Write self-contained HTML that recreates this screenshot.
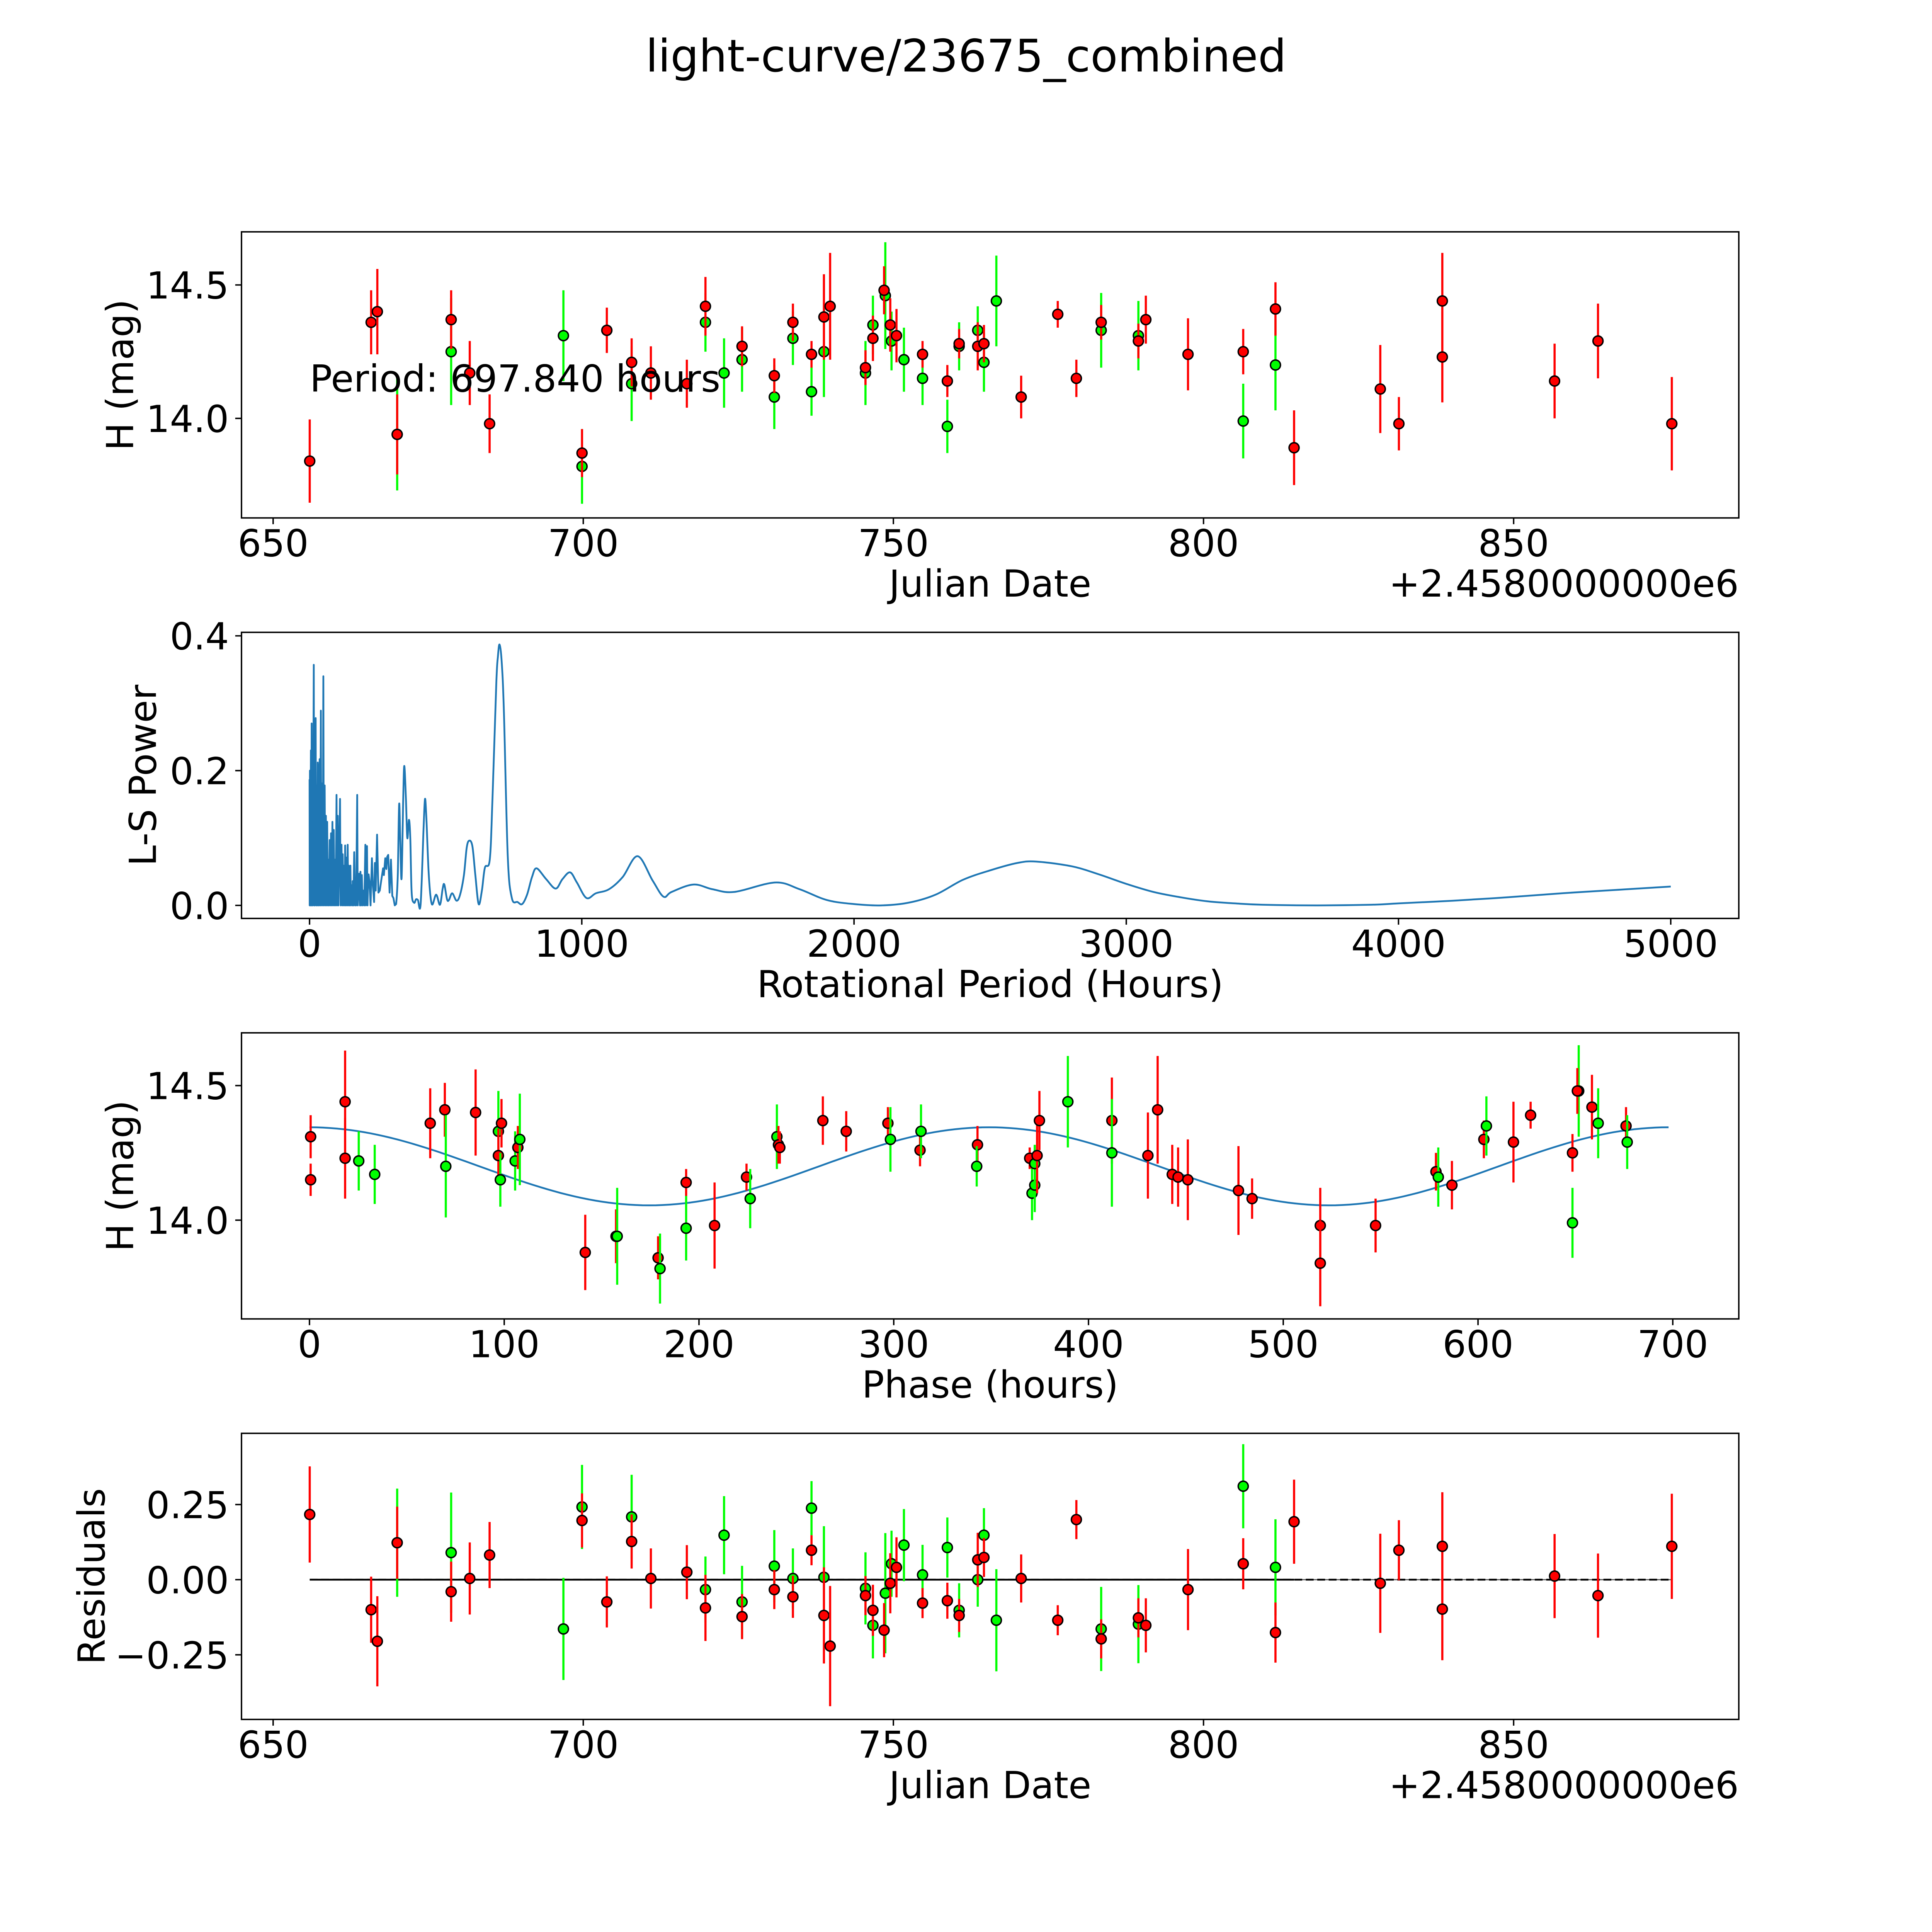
<!DOCTYPE html>
<html><head><meta charset="utf-8"><title>light-curve/23675_combined</title>
<style>
html,body{margin:0;padding:0;background:#fff;width:100%;height:100%;overflow:hidden;}
svg{display:block;width:100vw;height:100vh;}
text{font-family:"DejaVu Sans","Liberation Sans",sans-serif;fill:#000;}
</style></head>
<body>
<svg id="fig" xmlns="http://www.w3.org/2000/svg" viewBox="0 0 5400 5400" preserveAspectRatio="none">
<rect x="0" y="0" width="5400" height="5400" fill="#fff"/>
<text x="2700" y="200" font-size="125" text-anchor="middle">light-curve/23675_combined</text>
</svg>
<script>
// ---------- Panel 1: light curve ----------
const topJD = [655.9,665.8,666.8,670.0,670.0,678.7,678.7,681.7,684.9,696.8,699.8,699.8,703.8,707.8,707.8,710.9,716.7,719.7,719.7,722.7,725.6,725.6,730.8,730.8,733.8,733.8,736.8,736.8,738.8,738.8,739.8,745.5,745.5,746.7,746.7,748.7,748.5,749.7,749.5,750.5,751.7,754.7,754.7,758.7,758.7,760.6,760.6,763.6,763.6,764.6,764.6,766.6,770.6,776.5,779.5,783.5,783.5,789.5,789.5,790.7,797.5,806.4,806.4,811.6,811.6,814.6,828.5,831.5,838.5,838.5,856.6,863.6,875.5];
const topMag = [13.84,14.36,14.40,13.94,13.94,14.25,14.37,14.17,13.98,14.31,13.82,13.87,14.33,14.13,14.21,14.17,14.13,14.36,14.42,14.17,14.22,14.27,14.08,14.16,14.30,14.36,14.10,14.24,14.25,14.38,14.42,14.17,14.19,14.35,14.30,14.46,14.48,14.29,14.35,14.31,14.22,14.15,14.24,13.97,14.14,14.27,14.28,14.33,14.27,14.21,14.28,14.44,14.08,14.39,14.15,14.33,14.36,14.31,14.29,14.37,14.24,13.99,14.25,14.20,14.41,13.89,14.11,13.98,14.44,14.23,14.14,14.29,13.98];
const topErr = [.156,.12,.16,.21,.15,.2,.11,.12,.11,.17,.14,.09,.085,.14,.09,.1,.09,.11,.11,.13,.12,.075,.12,.065,.1,.07,.09,.05,.17,.16,.2,.12,.065,.11,.085,.2,.09,.11,.1,.1,.12,.1,.05,.1,.06,.09,.055,.09,.09,.11,.07,.17,.08,.05,.07,.14,.065,.13,.065,.09,.135,.14,.085,.17,.1,.14,.165,.1,.18,.17,.14,.14,.175];
const topBand = "rrrgrgrrrggrrgrrrgrggrgrgrgrgrrgrgrgrgrrggrgrgrgrgrgrrrgrgrrrgrgrrrrrrrrr";

// ---------- Panel 2: periodogram ----------
const lsPeriod = [0,0.5,1.4,2.5,5,6,7.7,9,10.6,12,15.5,17,17.6,19,22.5,24,26,27.5,30,31.5,33,34.5,37,39,41.5,43,45.8,48,50.7,52.5,55.6,57.5,60,62,64.8,67,69,71,74,76,78.8,81,84,86,89,91,93.6,96,99,101,103.5,106,112,114,117.5,119.5,121.7,124,126.7,129,130.7,133,135,137.5,140,142,144,147,150,152,155,158,158.4,161,164,167,168,171,175,177,182,185,187,189,192,195,198,201,205,207,211,213,214,217,220,224,229,232,237,240,243,248,253,258,263,270,273,278,282,285,289,294,299,304,308,313,318,324,329,333,338,344,348,354,359,365,370,375,384,391,398,408,419,424,429,438,449,465,479,489,495,505,512,524,540,553,567,577,586,598,609,621,633,644,662,672,686,692,698,706,714,728,743,764,781,799,817,834,869,904,929,957,982,1017,1052,1100,1150,1205,1260,1300,1330,1410,1480,1560,1710,1800,1900,2000,2100,2200,2300,2400,2500,2600,2670,2800,2900,3000,3100,3200,3300,3400,3500,3700,3900,4000,4200,4400,4600,4800,5000];
const lsPower = [.187,0,.20,0,.23,0,.27,0,.218,0,.357,0,.181,0,.278,0,.178,0,.212,0,.209,0,.217,0,.289,0,.181,0,.34,0,.178,0,.133,0,.124,0,.068,0,.097,0,.107,0,.124,0,.112,0,.068,0,.164,0,.133,0,.158,0,.09,0,.076,0,.059,0,.089,0,.071,0,.09,0,.059,0,.059,0,.03,0,.036,0,.079,0,.036,0,.164,0,.047,0,.05,0,.045,0,.022,0,.09,0,.088,0,.022,.046,.036,0,.07,.034,.005,.063,.022,.105,.019,.022,.036,.055,.045,.07,.054,.072,.075,.019,.068,.014,.011,0,.002,.045,.15,.10,.04,.158,.207,.158,.10,.127,.10,.019,.004,.009,.008,.002,.116,.158,.13,.045,.002,.016,.001,.025,.031,.009,.008,.018,.007,.016,.045,.085,.096,.088,.045,.002,.022,.056,.068,.16,.33,.37,.387,.36,.286,.073,.011,.005,.002,.016,.042,.055,.039,.025,.039,.049,.034,.011,.018,.024,.042,.073,.037,.013,.02,.031,.024,.02,.034,.024,.008,.002,0,.004,.016,.038,.052,.063,.065,.058,.046,.032,.02,.012,.006,.003,.001,0,.001,.003,.007,.012,.018,.023,.028];

// ---------- Panel 3: phased ----------
const phPhase = [0.6,0.6,18.3,18.3,25.3,33.5,62,69.5,70,85.3,97,97,98.6,98,105.6,107,108,141.6,157.4,158,179,180,193.4,193.4,208,224.4,226.3,240,240.8,241.5,263.6,275.6,297,298.3,313.5,314,343,342.6,369.8,371,372.4,372.4,373.6,374.8,389.4,412,412,430.5,435.5,443,446,451,477,484,519,519,547.4,578.4,579.6,586.6,603,604.3,618.2,627,648.5,648.5,651.7,651,658.5,661.7,676,676.6];
const phMag = [14.31,14.15,14.44,14.23,14.22,14.17,14.36,14.41,14.20,14.40,14.33,14.24,14.36,14.15,14.22,14.27,14.30,13.88,13.94,13.94,13.86,13.82,14.14,13.97,13.98,14.16,14.08,14.31,14.28,14.27,14.37,14.33,14.36,14.30,14.26,14.33,14.28,14.20,14.23,14.10,14.13,14.21,14.24,14.37,14.44,14.37,14.25,14.24,14.41,14.17,14.16,14.15,14.11,14.08,13.98,13.84,13.98,14.18,14.16,14.13,14.30,14.35,14.29,14.39,14.25,13.99,14.48,14.48,14.42,14.36,14.35,14.29];
const phErr = [.08,.06,.19,.15,.11,.11,.13,.1,.19,.16,.15,.1,.09,.1,.11,.08,.17,.14,.1,.18,.08,.13,.05,.12,.16,.05,.11,.12,.07,.06,.09,.075,.06,.12,.06,.1,.07,.075,.04,.1,.1,.07,.14,.11,.17,.16,.2,.16,.2,.11,.11,.15,.165,.075,.14,.16,.1,.07,.11,.09,.07,.11,.15,.05,.07,.13,.17,.085,.12,.13,.07,.1];
const phBand = "rrrrggrrgrgrrggrgrrgrgrgrrggrrrrrgrgrgrgggrrgrgrrrrrrrrrrrgrrgrrrggrrgrg";
const fitParams = [14.2, 0.145, 697.84]; // mean, amplitude, period (h)

// ---------- Panel 4: residuals ----------
const resJD = [655.9,665.8,666.8,670.0,670.0,678.7,678.7,681.7,684.9,696.8,699.8,699.8,703.8,707.8,707.8,710.9,716.7,719.7,719.7,722.7,725.6,725.6,730.8,730.8,733.8,733.8,736.8,736.8,738.8,738.8,739.8,745.5,745.5,746.7,746.7,748.7,748.5,749.7,749.5,750.5,751.7,754.7,754.7,758.7,758.7,760.6,760.6,763.6,763.6,764.6,764.6,766.6,770.6,776.5,779.5,783.5,783.5,789.5,789.5,790.7,797.5,806.4,806.4,811.6,811.6,814.6,828.5,831.5,838.5,838.5,856.6,863.6,875.5];
const resVal = [.217,-.10,-.205,.123,.123,.09,-.04,.004,.082,-.164,.242,.197,-.074,.209,.127,.004,.025,-.033,-.094,.148,-.074,-.123,.045,-.033,.004,-.057,.238,.098,.008,-.119,-.221,-.029,-.053,-.152,-.102,-.045,-.168,.053,-.012,.041,.115,.016,-.078,.107,-.07,-.102,-.119,0,.066,.148,.074,-.135,.004,-.135,.20,-.164,-.197,-.148,-.127,-.152,-.033,.311,.053,.041,-.176,.193,-.012,.098,.111,-.098,.012,-.053,.111];
const resErr = [.16,.11,.15,.18,.12,.2,.1,.12,.11,.17,.14,.09,.085,.14,.09,.1,.09,.11,.11,.13,.12,.075,.12,.065,.1,.07,.09,.05,.17,.16,.2,.12,.065,.11,.085,.2,.09,.11,.1,.1,.12,.1,.05,.1,.06,.09,.055,.09,.09,.09,.065,.17,.08,.05,.065,.14,.065,.13,.065,.09,.135,.14,.085,.16,.1,.14,.165,.1,.18,.17,.14,.14,.175];
const resBand = "rrrgrgrrrggrrgrrrgrggrgrgrgrgrrgrgrgrgrrggrgrgrgrgrgrrrgrgrrrgrgrrrrrrrrr";

const jdTicks = [650,700,750,800,850];
const lsXTicks = [0,1000,2000,3000,4000,5000];
const lsYTicks = [0.0,0.2,0.4];
const lsYLabels = ["0.0","0.2","0.4"];
const phXTicks = [0,100,200,300,400,500,600,700];
const magTicks = [14.0,14.5];
const magLabels = ["14.0","14.5"];
const resTicks = [-0.25,0,0.25];
const resLabels = ["\u22120.25","0.00","0.25"];

const NS = "http://www.w3.org/2000/svg";
const svg = document.getElementById('fig');
const FS = 104;
function mk(tag, attrs, parent){
  const e = document.createElementNS(NS, tag);
  for (const k in attrs) e.setAttribute(k, attrs[k]);
  (parent||svg).appendChild(e);
  return e;
}
const L = 675, W = 4185, H = 799.6, STEP = 1119.4, T0 = 648;
function makeAxes(i, xmin, xmax, ymin, ymax){
  const top = T0 + i*STEP, bot = top + H;
  return {top, bot,
    x: v => L + (v - xmin)/(xmax - xmin)*W,
    y: v => bot - (v - ymin)/(ymax - ymin)*H};
}
const COL = {r:'#ff0000', g:'#00ff00'};

function frame(ax, name){
  const r = mk('rect', {x:L, y:ax.top, width:W, height:H, fill:'none', stroke:'#000', 'stroke-width':4});
  
  
}
function xTicks(ax, ticks, labels, name){
  const g = mk('g', {});
  
  
  ticks.forEach((t,i)=>{
    const x = ax.x(t);
    mk('line', {x1:x, x2:x, y1:ax.bot, y2:ax.bot+17.5, stroke:'#000', 'stroke-width':4}, g);
    const tx = mk('text', {x:x, y:ax.bot+107, 'font-size':FS, 'text-anchor':'middle'}, g);
    
    
    tx.textContent = labels ? labels[i] : String(t);
  });
}
function yTicks(ax, ticks, labels, name){
  const g = mk('g', {});
  
  
  ticks.forEach((t,i)=>{
    const y = ax.y(t);
    mk('line', {x1:L-17.5, x2:L, y1:y, y2:y, stroke:'#000', 'stroke-width':4}, g);
    const tx = mk('text', {x:L-35, y:y+38, 'font-size':FS, 'text-anchor':'end'}, g);
    
    
    tx.textContent = labels[i];
  });
}
function label(text, x, y, rot, name, anchor){
  const t = mk('text', {x:x, y:y, 'font-size':FS, 'text-anchor':anchor||'middle'});
  if (rot) t.setAttribute('transform', 'rotate(-90 '+x+' '+y+')');
  
  
  t.textContent = text;
  return t;
}
function errPoints(ax, xs, ys, es, band, name){
  const g = mk('g', {});
  
  
  xs.forEach((xv,i)=>{
    const c = COL[band[i]];
    const x = ax.x(xv);
    const bar = mk('line', {x1:x, x2:x, y1:ax.y(ys[i]-es[i]), y2:ax.y(ys[i]+es[i]), stroke:c, 'stroke-width':6}, g);
    
    
    const dot = mk('circle', {cx:x, cy:ax.y(ys[i]), r:14, fill:c, stroke:'#000', 'stroke-width':4}, g);
    
    
  });
}

// Panel 1
const a1 = makeAxes(0, 644.9, 886.3, 13.627, 14.699);
frame(a1, 'lightcurve');
errPoints(a1, topJD, topMag, topErr, topBand, 'lightcurve-points');
xTicks(a1, jdTicks, null, 'lightcurve');
yTicks(a1, magTicks, magLabels, 'lightcurve');
label('Julian Date', L+W/2, a1.bot+220, false, 'lightcurve-x-axis-title');
label('+2.4580000000e6', L+W, a1.bot+220, false, 'lightcurve-offset-text', 'end');
label('H (mag)', 372, a1.top+H/2, true, 'lightcurve-y-axis-title');
const per = mk('text', {x:a1.x(topJD[0]), y:a1.y(14.1), 'font-size':FS});


per.textContent = 'Period: 697.840 hours';

// Panel 2
const a2 = makeAxes(1, -250, 5250, -0.0193, 0.4052);
frame(a2, 'periodogram');
const P = lsPeriod.map((p,i)=> [a2.x(p), a2.y(lsPower[i])]);
let split = lsPeriod.indexOf(318);
let d = 'M' + P[0][0].toFixed(1) + ',' + P[0][1].toFixed(1);
for (let i=1; i<=split; i++) d += ' L' + P[i][0].toFixed(1) + ',' + P[i][1].toFixed(1);
for (let i=split; i<P.length-1; i++){
  const p0 = P[Math.max(i-1,0)], p1 = P[i], p2 = P[i+1], p3 = P[Math.min(i+2,P.length-1)];
  const c1 = [p1[0]+(p2[0]-p0[0])/6, p1[1]+(p2[1]-p0[1])/6];
  const c2 = [p2[0]-(p3[0]-p1[0])/6, p2[1]-(p3[1]-p1[1])/6];
  d += ' C' + c1[0].toFixed(1)+','+c1[1].toFixed(1)+' '+c2[0].toFixed(1)+','+c2[1].toFixed(1)+' '+p2[0].toFixed(1)+','+p2[1].toFixed(1);
}
const pl = mk('path', {d:d, fill:'none', stroke:'#1f77b4', 'stroke-width':5, 'stroke-linejoin':'round'});


xTicks(a2, lsXTicks, null, 'periodogram');
yTicks(a2, lsYTicks, lsYLabels, 'periodogram');
label('Rotational Period (Hours)', L+W/2, a2.bot+220, false, 'periodogram-x-axis-title');
label('L-S Power', 436, a2.top+H/2, true, 'periodogram-y-axis-title');

// Panel 3
const a3 = makeAxes(2, -34.9, 733.9, 13.633, 14.696);
frame(a3, 'phase');
const fpts = [];
for (let k=0; k<=200; k++){
  const p = fitParams[2]*k/200;
  const m = fitParams[0] + fitParams[1]*Math.cos(4*Math.PI*p/fitParams[2]);
  fpts.push(a3.x(p).toFixed(1)+','+a3.y(m).toFixed(1));
}
const fit = mk('polyline', {points:fpts.join(' '), fill:'none', stroke:'#1f77b4', 'stroke-width':5});


errPoints(a3, phPhase, phMag, phErr, phBand, 'phase-points');
xTicks(a3, phXTicks, null, 'phase');
yTicks(a3, magTicks, magLabels, 'phase');
label('Phase (hours)', L+W/2, a3.bot+220, false, 'phase-x-axis-title');
label('H (mag)', 372, a3.top+H/2, true, 'phase-y-axis-title');

// Panel 4
const a4 = makeAxes(3, 644.9, 886.3, -0.465, 0.487);
frame(a4, 'residuals');
const z1 = mk('line', {x1:a4.x(resJD[0]), x2:a4.x(resJD[resJD.length-1]), y1:a4.y(0), y2:a4.y(0), stroke:'#555', 'stroke-width':3});


const z2 = mk('line', {x1:a4.x(resJD[0]), x2:a4.x(814.6), y1:a4.y(0), y2:a4.y(0), stroke:'#000', 'stroke-width':5});


const z3 = mk('line', {x1:a4.x(resJD[0]), x2:a4.x(resJD[resJD.length-1]), y1:a4.y(0), y2:a4.y(0), stroke:'#000', 'stroke-width':5, 'stroke-dasharray':'22 10'});


errPoints(a4, resJD, resVal, resErr, resBand, 'residual-points');
xTicks(a4, jdTicks, null, 'residuals');
yTicks(a4, resTicks, resLabels, 'residuals');
label('Julian Date', L+W/2, a4.bot+220, false, 'residuals-x-axis-title');
label('+2.4580000000e6', L+W, a4.bot+220, false, 'residuals-offset-text', 'end');
label('Residuals', 292, a4.top+H/2, true, 'residuals-y-axis-title');
</script>
</body></html>
